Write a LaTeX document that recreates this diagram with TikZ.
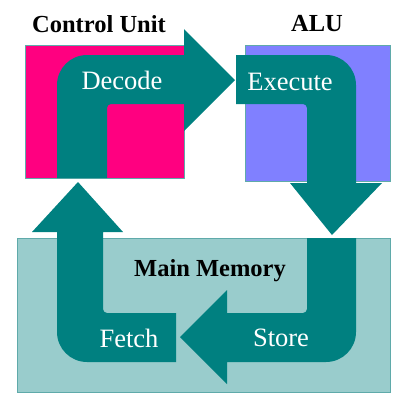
\documentclass[tikz,border=0pt]{standalone}
\usepackage{fontspec}
\setmainfont{Liberation Serif}
\definecolor{cumag}{HTML}{FF0080}
\definecolor{alublue}{HTML}{8080FF}
\definecolor{memteal}{HTML}{99CCCC}
\definecolor{arrteal}{HTML}{008080}
\definecolor{edgeteal}{HTML}{5FAAAA}
\tikzset{
  unitbox/.style={draw=edgeteal, line width=0.8pt},
  flow/.style={fill=arrteal},
  title/.style={font=\fontsize{24.5}{24.5}\selectfont\bfseries, text=black, inner sep=0pt},
  steplabel/.style={font=\fontsize{26.5}{26.5}\selectfont, text=white, inner sep=0pt}
}
\begin{document}
\begin{tikzpicture}[x=1pt,y=-1pt]
\useasboundingbox (0,0) rectangle (394,394);
% boxes
\path[unitbox, fill=cumag] (25,45) rectangle (184,178);
\path[unitbox, fill=alublue] (245,45) rectangle (390,181);
\path[unitbox, fill=memteal] (17,238) rectangle (390,392);
% Decode arrow
\path[flow] (57,178) -- (57,85) .. controls (57,68.4) and (70.4,55) .. (87,55)
  -- (184,55) -- (184,29) -- (235,80) -- (184,131) -- (184,104)
  -- (111,104) .. controls (108.8,104) and (107,105.8) .. (107,108) -- (107,178) -- cycle;
% Execute arrow
\path[flow] (236,55) -- (326,55) .. controls (342.6,55) and (356,68.4) .. (356,85)
  -- (356,183) -- (382,183) -- (332,235) -- (290,183) -- (307,183)
  -- (307,108) .. controls (307,105.8) and (305.2,104) .. (303,104) -- (236,104) -- cycle;
% Store arrow
\path[flow] (307,238) -- (307,309) .. controls (307,311.2) and (305.2,313) .. (303,313)
  -- (227,313) -- (227,290) -- (180,337) -- (227,384) -- (227,362)
  -- (326,362) .. controls (342.6,362) and (356,348.6) .. (356,332) -- (356,238) -- cycle;
% Fetch arrow
\path[flow] (176,313) -- (107,313) .. controls (104.8,313) and (103,311.2) .. (103,309)
  -- (103,232) -- (123,232) -- (78,182) -- (32,232) -- (57,232)
  -- (57,332) .. controls (57,348.6) and (70.4,362) .. (87,362) -- (176,362) -- cycle;
% labels
\node[title] (cu) at (99,24) {Control Unit};
\node[title] (alu) at (317,24) {ALU};
\node[title] (mem) at (210,271) {Main Memory};
\node[steplabel] (decode) at (122,80) {Decode};
\node[steplabel] (execute) at (290,82) {Execute};
\node[steplabel] (fetch) at (129,338) {Fetch};
\node[steplabel] (store) at (281,338) {Store};
\end{tikzpicture}
\end{document}
